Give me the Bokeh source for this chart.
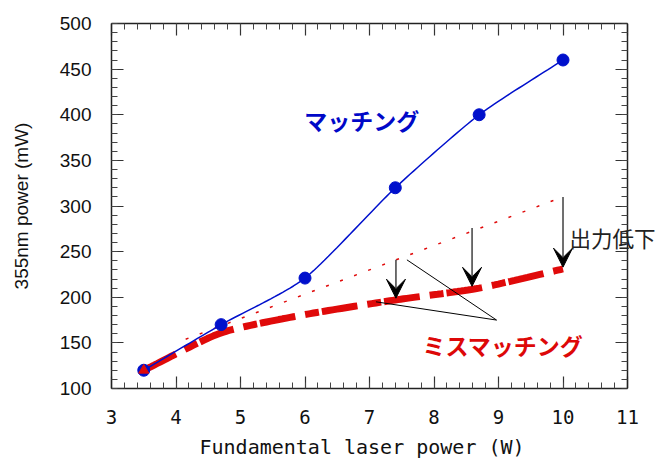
import numpy as np
from bokeh.plotting import figure
from bokeh.models import (LinearAxis, SingleIntervalTicker, Range1d, Label, Title,
                          Arrow, VeeHead, ColumnDataSource, CustomJSTickFormatter)
from bokeh.embed import file_html
from bokeh.resources import INLINE

# ---- data ----
power_w = [3.5, 4.7, 6.0, 7.4, 8.7, 10.0]
matched_mw = [120, 170, 221, 320, 400, 460]
mismatched_mw = [120, 161, 181, 197, 210, 231]
expected_x = [4.15, 10.0]
expected_mw = [154, 310]
arrow_x = [7.41, 8.59, 10.0]
arrow_top = [241, 276, 310]
arrow_tip = [199, 212, 233]
callout_from_x = [7.58, 7.10]
callout_from_y = [241, 195]
callout_to = (8.97, 175)
x_axis_bounds = (3, 11)
y_axis_bounds = (100, 500)
x_title = "Fundamental laser power (W)"
y_title = "355nm power (mW)"

BLUE = "#0010cc"
RED = "#e00a0a"


def smooth(xs, ys, n=24, tension=0.35):
    """Cardinal spline through the given points (display smoothing)."""
    P = np.column_stack([xs, ys]).astype(float)
    P = np.vstack([2 * P[0] - P[1], P, 2 * P[-1] - P[-2]])
    k = 1.0 - tension
    out = []
    for i in range(1, len(P) - 2):
        p0, p1, p2, p3 = P[i - 1], P[i], P[i + 1], P[i + 2]
        m1 = k * (p2 - p0) / 2
        m2 = k * (p3 - p1) / 2
        t = np.linspace(0, 1, n, endpoint=(i == len(P) - 3))[:, None]
        h00 = 2 * t ** 3 - 3 * t ** 2 + 1
        h10 = t ** 3 - 2 * t ** 2 + t
        h01 = -2 * t ** 3 + 3 * t ** 2
        h11 = t ** 3 - t ** 2
        out.append(h00 * p1 + h10 * m1 + h01 * p2 + h11 * m2)
    c = np.vstack(out)
    return c[:, 0], c[:, 1]


# frame extends a little past x=11 so the "出力低下" note can overhang the right axis
p = figure(frame_width=546, frame_height=365, output_backend="svg", toolbar_location=None,
           x_range=Range1d(3, 11.465), y_range=Range1d(100, 500),
           min_border_left=111, min_border_right=0, min_border_top=23,
           min_border_bottom=79, background_fill_color="white",
           border_fill_color="white")
p.outline_line_color = None
p.xgrid.visible = False
p.ygrid.visible = False

blank = CustomJSTickFormatter(code="return ''")


def style_axis(ax, show_labels):
    ax.major_tick_in = 12
    ax.major_tick_out = 0
    ax.minor_tick_in = 6
    ax.minor_tick_out = 0
    ax.axis_line_color = "#222222"
    ax.axis_line_width = 1.5
    ax.major_tick_line_color = "#333333"
    ax.minor_tick_line_color = "#444444"
    ax.major_tick_line_width = 1.2
    ax.minor_tick_line_width = 1.0
    if not show_labels:
        ax.formatter = blank
        ax.major_label_standoff = 0


xa = p.xaxis[0]
xa.ticker = SingleIntervalTicker(interval=1, num_minor_ticks=5)
xa.bounds = x_axis_bounds
style_axis(xa, True)
xa.major_label_text_font = "DejaVu Sans Mono"
xa.major_label_text_font_size = "19px"
xa.major_label_text_color = "#111111"
xa.major_label_standoff = 21

# x-axis title, centred under the 3..11 axis (not under the wider frame)
p.add_layout(Title(text=x_title, align="left", offset=88, standoff=12,
                   text_font="DejaVu Sans Mono", text_font_size="20px",
                   text_font_style="normal", text_color="#111111"), "below")

ya = p.yaxis[0]
ya.ticker = SingleIntervalTicker(interval=50, num_minor_ticks=5)
ya.bounds = y_axis_bounds
style_axis(ya, True)
ya.major_label_text_font = "Liberation Sans"
ya.major_label_text_font_size = "19px"
ya.major_label_text_color = "#111111"
ya.major_label_standoff = 20
ya.axis_label = y_title
ya.axis_label_text_font = "Liberation Sans"
ya.axis_label_text_font_size = "19px"
ya.axis_label_text_font_style = "normal"
ya.axis_label_text_color = "#111111"
ya.axis_label_standoff = 25

ra = LinearAxis(ticker=SingleIntervalTicker(interval=50, num_minor_ticks=5),
                fixed_location=x_axis_bounds[1], bounds=y_axis_bounds)
style_axis(ra, False)
p.add_layout(ra, "right")
ta = LinearAxis(ticker=SingleIntervalTicker(interval=1, num_minor_ticks=5),
                bounds=x_axis_bounds)
style_axis(ta, False)
p.add_layout(ta, "above")

# expected (dotted) line
p.line(expected_x, expected_mw, line_color=RED, line_width=1.5, line_dash="3 12")

# mismatched thick dashed curve
mx, my = smooth(power_w, mismatched_mw)
p.line(mx, my, line_color=RED, line_width=7, line_dash="36 10 14 3")

# matched curve + markers
bx, by = smooth(power_w, matched_mw)
p.line(bx, by, line_color=BLUE, line_width=1.5)
p.scatter(power_w, matched_mw, size=12, marker="circle", fill_color=BLUE, line_color=BLUE)
p.scatter(power_w[:1], mismatched_mw[:1], size=10, marker="triangle",
          fill_color=RED, line_color=RED)

# callout lines
for fx, fy in zip(callout_from_x, callout_from_y):
    p.line([fx, callout_to[0]], [fy, callout_to[1]], line_color="black", line_width=1)

# arrows
asrc = ColumnDataSource(dict(x0=arrow_x, y0=arrow_top, x1=arrow_x, y1=arrow_tip))
p.add_layout(Arrow(end=VeeHead(size=19, fill_color="black", line_color="black",
                               line_width=1),
                   x_start="x0", y_start="y0", x_end="x1", y_end="y1",
                   source=asrc, line_color="#333333", line_width=1.4))

# text labels
p.add_layout(Label(x=6.88, y=394, text="マッチング", text_align="center",
                   text_baseline="middle", text_font="Noto Sans CJK JP",
                   text_font_size="23px", text_font_style="bold", text_color="#0008c8"))
p.add_layout(Label(x=9.07, y=148, text="ミスマッチング", text_align="center",
                   text_baseline="middle", text_font="Noto Sans CJK JP",
                   text_font_size="23px", text_font_style="bold", text_color="#dd0808"))
p.add_layout(Label(x=10.1, y=266, text="出力低下", text_align="left",
                   text_baseline="middle", text_font="Noto Sans CJK JP",
                   text_font_size="21.5px", text_color="#222222"))

open("out.html", "w").write(file_html(p, INLINE))
